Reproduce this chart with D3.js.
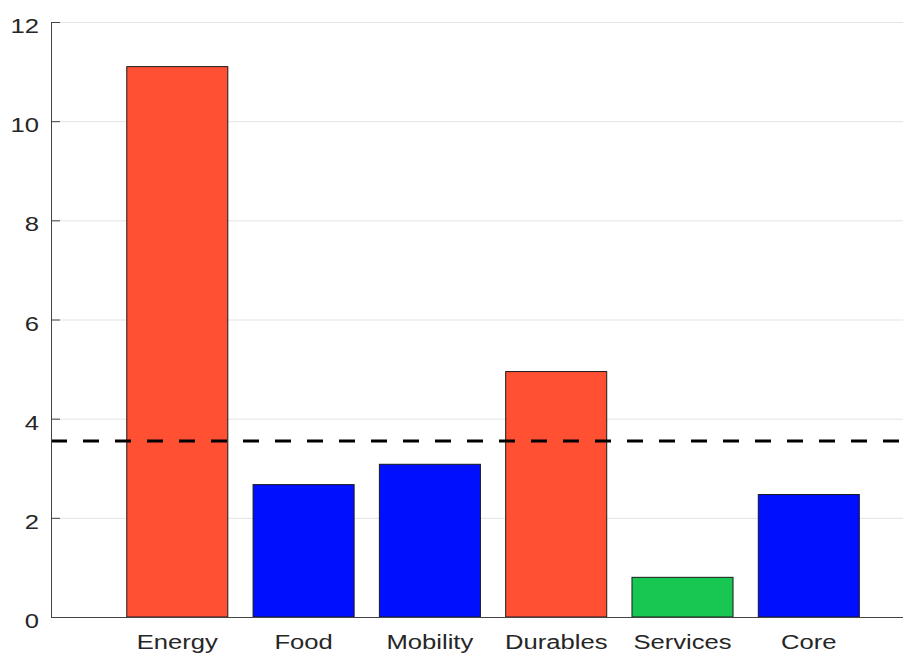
<!DOCTYPE html>
<html>
<head>
<meta charset="utf-8">
<script src="https://cdn.jsdelivr.net/npm/d3@7"></script>
<style>
  body { margin: 0; background: #fff; }
  svg { display: block; font-family: "Liberation Sans", Arial, sans-serif; }
</style>
</head>
<body>
<svg id="chart"></svg>
<script>
(function(){
    var W = 903, H = 653
    var margin = {top: 22, left: 51}
    var plotH = 595
    var stepX = 126.3

    // data
    let categories = ['Energy', 'Food', 'Mobility', 'Durables', 'Services', 'Core']
    let values = [11.1, 2.67, 3.08, 4.95, 0.80, 2.47]
    let colours = ['#ff5033', '#0010ff', '#0010ff', '#ff5033', '#18c752', '#0010ff']
    let refValue = 3.55
    let yTicks = [0, 2, 4, 6, 8, 10, 12]

    var svg = d3.select("svg#chart")
        .attr("width", W)
        .attr("height", H)
        .append("g")
        .attr("transform", "translate(" + margin.left + "," + margin.top + ")")

    let xScale = d3.scaleLinear()
        .domain([0, 7])
        .range([0, 7 * stepX])

    let yScale = d3.scaleLinear()
        .domain([0, 12])
        .range([plotH, 0])

    // grid lines
    svg.append("g")
        .attr("class", "grid")
        .call(d3.axisLeft(yScale).tickValues(yTicks).tickSize(-7 * stepX).tickFormat(""))
        .call(g => g.select(".domain").remove())
        .call(g => g.selectAll("line").attr("stroke", "#e3e3e3").attr("stroke-width", 1))

    // bars
    svg.selectAll("rect.bar")
        .data(values)
        .enter()
        .append("rect")
            .attr("class", "bar")
            .attr("x", (d, i) => xScale(i + 1 - 0.4))
            .attr("y", (d) => yScale(d))
            .attr("width", xScale(0.8) - xScale(0))
            .attr("height", (d) => plotH - yScale(d))
            .attr("fill", (d, i) => colours[i])
            .attr("stroke", "#1a1a1a")
            .attr("stroke-width", 1)

    // reference line
    svg.append("line")
        .attr("x1", xScale(0))
        .attr("x2", xScale(7))
        .attr("y1", yScale(refValue))
        .attr("y2", yScale(refValue))
        .attr("stroke", "#000")
        .attr("stroke-width", 3)
        .attr("stroke-dasharray", "16,16")

    var sx = 1.22

    // y axis
    svg.append("g")
        .call(d3.axisLeft(yScale).tickValues(yTicks).tickSizeInner(-9).tickSizeOuter(0).tickPadding(12 / sx))
        .call(g => g.select(".domain").attr("stroke", "#444"))
        .call(g => g.selectAll(".tick line").attr("stroke", "#444"))
        .call(g => g.selectAll("text")
            .attr("font-size", "21px")
            .attr("fill", "#262626")
            .attr("dy", "0.5em")
            .attr("transform", "scale(" + sx + ",1)"))

    // x axis
    svg.append("g")
        .attr("transform", "translate(0," + plotH + ")")
        .call(d3.axisBottom(xScale).tickValues(d3.range(1, 7)).tickFormat(i => categories[i - 1]).tickSize(0).tickSizeOuter(0))
        .call(g => g.select(".domain").attr("stroke", "#444"))
        .call(g => g.selectAll("text")
            .attr("font-size", "21px")
            .attr("fill", "#262626")
            .attr("y", 32)
            .attr("dy", 0)
            .attr("transform", "scale(" + sx + ",1)")
            .attr("x", 0))
        .call(g => g.selectAll(".tick").each(function(d){
            d3.select(this).attr("transform", "translate(" + xScale(d) + ",0)")
        }))

    svg.selectAll(".tick text").attr("font-family", "Liberation Sans, Arial, sans-serif")
})()
</script>
</body>
</html>
